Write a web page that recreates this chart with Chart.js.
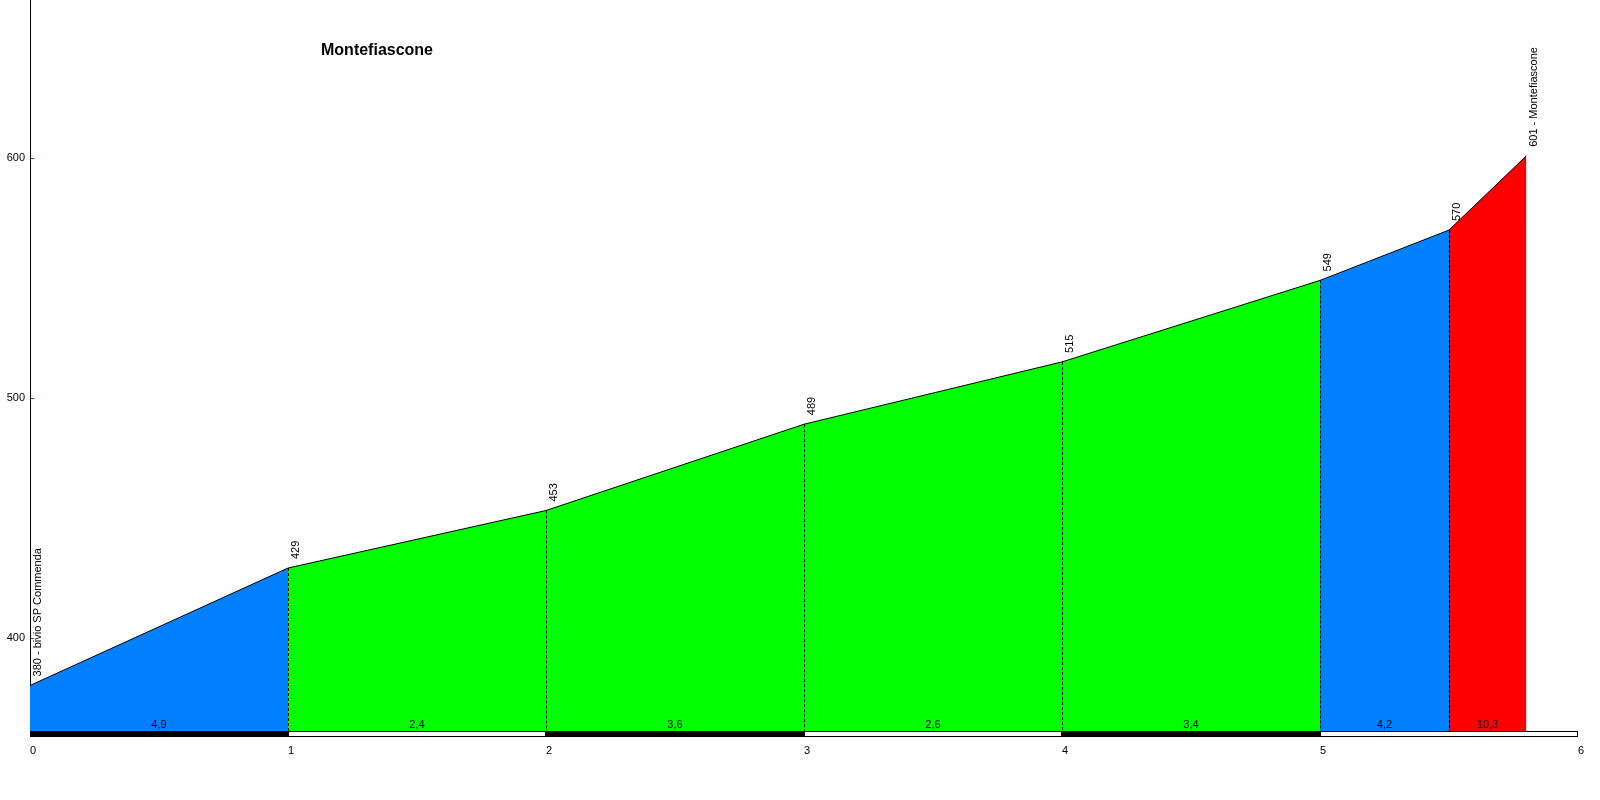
<!DOCTYPE html>
<html>
<head>
<meta charset="utf-8">
<style>
  html, body { margin: 0; padding: 0; background: #fff; }
  #wrap { width: 1600px; height: 800px; }
</style>
<script src="https://cdn.jsdelivr.net/npm/chart.js@4/dist/chart.umd.min.js"></script>
</head>
<body>
<div id="wrap"><canvas id="profilo" width="1600" height="800"></canvas></div>
<script>
// dati del profilo altimetrico
const titolo = 'Montefiascone';
const distanzeKm = [0, 1, 2, 3, 4, 5, 5.5, 5.8];
const altitudini = [380, 429, 453, 489, 515, 549, 570, 601];
const nomiPunti = ['bivio SP Commenda', '', '', '', '', '', '', 'Montefiascone'];
const pendenze = ['4,9', '2,4', '3,6', '2,6', '3,4', '4,2', '10,3'];
const tickY = [400, 500, 600];

function coloreTratto(p) {
    const v = parseFloat(p.replace(',', '.'));
    if (v >= 10) return '#ff0000';
    if (v >= 4) return '#0080ff';
    return '#00ff00';
}

const datasetsTratti = pendenze.map((p, i) => ({
    data: [
        { x: distanzeKm[i], y: altitudini[i] },
        { x: distanzeKm[i + 1], y: altitudini[i + 1] }
    ],
    fill: 'start',
    backgroundColor: coloreTratto(p),
    borderColor: '#000000',
    borderWidth: 1,
    pointRadius: 0,
    tension: 0
}));

const FONT = 'Arial, "Liberation Sans", sans-serif';

// etichette, linee tratteggiate, barra km, titolo
const decorazioni = {
    id: 'decorazioni',
    afterDatasetsDraw(chart) {
        const c = chart.ctx;
        const xs = chart.scales.x;
        const ys = chart.scales.y;
        const area = chart.chartArea;
        const base = area.bottom;

        c.save();

        // linee tratteggiate ai cambi di pendenza
        c.strokeStyle = '#000';
        c.lineWidth = 1;
        c.setLineDash([3, 2]);
        for (let i = 1; i < distanzeKm.length - 1; i++) {
            const px = Math.round(xs.getPixelForValue(distanzeKm[i])) + 0.5;
            const py = ys.getPixelForValue(altitudini[i]);
            c.beginPath();
            c.moveTo(px, py);
            c.lineTo(px, base);
            c.stroke();
        }
        c.setLineDash([]);

        // barra chilometrica
        for (let k = 0; k < 6; k++) {
            const x0 = Math.round(xs.getPixelForValue(k));
            const x1 = Math.round(xs.getPixelForValue(k + 1));
            if (k % 2 === 0) {
                c.fillStyle = '#000';
                c.fillRect(x0, base, x1 - x0, 6);
            } else {
                c.fillStyle = '#fff';
                c.fillRect(x0, base, x1 - x0, 6);
                c.strokeStyle = '#000';
                c.strokeRect(x0 + 0.5, base + 0.5, x1 - x0 - 1, 5);
            }
        }

        // pendenze
        c.fillStyle = '#000';
        c.font = '11px ' + FONT;
        c.textAlign = 'center';
        c.textBaseline = 'alphabetic';
        pendenze.forEach((p, i) => {
            const mx = xs.getPixelForValue((distanzeKm[i] + distanzeKm[i + 1]) / 2);
            c.fillText(p, mx, base - 3);
        });

        // quote verticali
        c.textAlign = 'left';
        distanzeKm.forEach((d, i) => {
            const px = xs.getPixelForValue(d);
            const py = ys.getPixelForValue(altitudini[i]);
            const testo = nomiPunti[i] ? altitudini[i] + ' - ' + nomiPunti[i] : String(altitudini[i]);
            c.save();
            c.translate(px + 11, py - 9);
            c.rotate(-Math.PI / 2);
            c.fillText(testo, 0, 0);
            c.restore();
        });

        // tacche rosse asse y
        c.strokeStyle = '#ff0000';
        tickY.forEach(v => {
            const py = Math.round(ys.getPixelForValue(v)) + 0.5;
            c.beginPath();
            c.moveTo(area.left + 1, py);
            c.lineTo(area.left + 4, py);
            c.stroke();
        });

        // titolo
        c.fillStyle = '#000';
        c.font = 'bold 16px ' + FONT;
        c.textAlign = 'left';
        c.fillText(titolo, 321, 55);

        c.restore();
    }
};

const grafico = new Chart(document.getElementById('profilo'), {
    type: 'line',
    data: { datasets: datasetsTratti },
    plugins: [decorazioni],
    options: {
        responsive: false,
        animation: false,
        devicePixelRatio: 1,
        layout: { padding: { top: 0, right: 22, bottom: 0, left: 0 } },
        plugins: {
            legend: { display: false },
            tooltip: { enabled: false },
            title: { display: false }
        },
        scales: {
            x: {
                type: 'linear',
                min: 0,
                max: 6,
                grid: { display: false, drawTicks: false },
                border: { display: false },
                afterFit: s => { s.height = 69; s.paddingLeft = 0; s.paddingRight = 0; },
                ticks: {
                    stepSize: 1,
                    color: '#000',
                    align: 'start',
                    padding: 13,
                    font: { family: FONT, size: 11 }
                }
            },
            y: {
                type: 'linear',
                min: 361,
                max: 666,
                z: 1,
                grid: { display: false, drawTicks: false },
                border: { display: true, color: '#000', width: 1 },
                afterFit: s => { s.width = 30; s.paddingTop = 0; s.paddingBottom = 0; },
                afterBuildTicks: s => { s.ticks = tickY.map(v => ({ value: v })); },
                ticks: {
                    color: '#000',
                    padding: 5,
                    font: { family: FONT, size: 11 }
                }
            }
        }
    }
});
</script>
</body>
</html>
